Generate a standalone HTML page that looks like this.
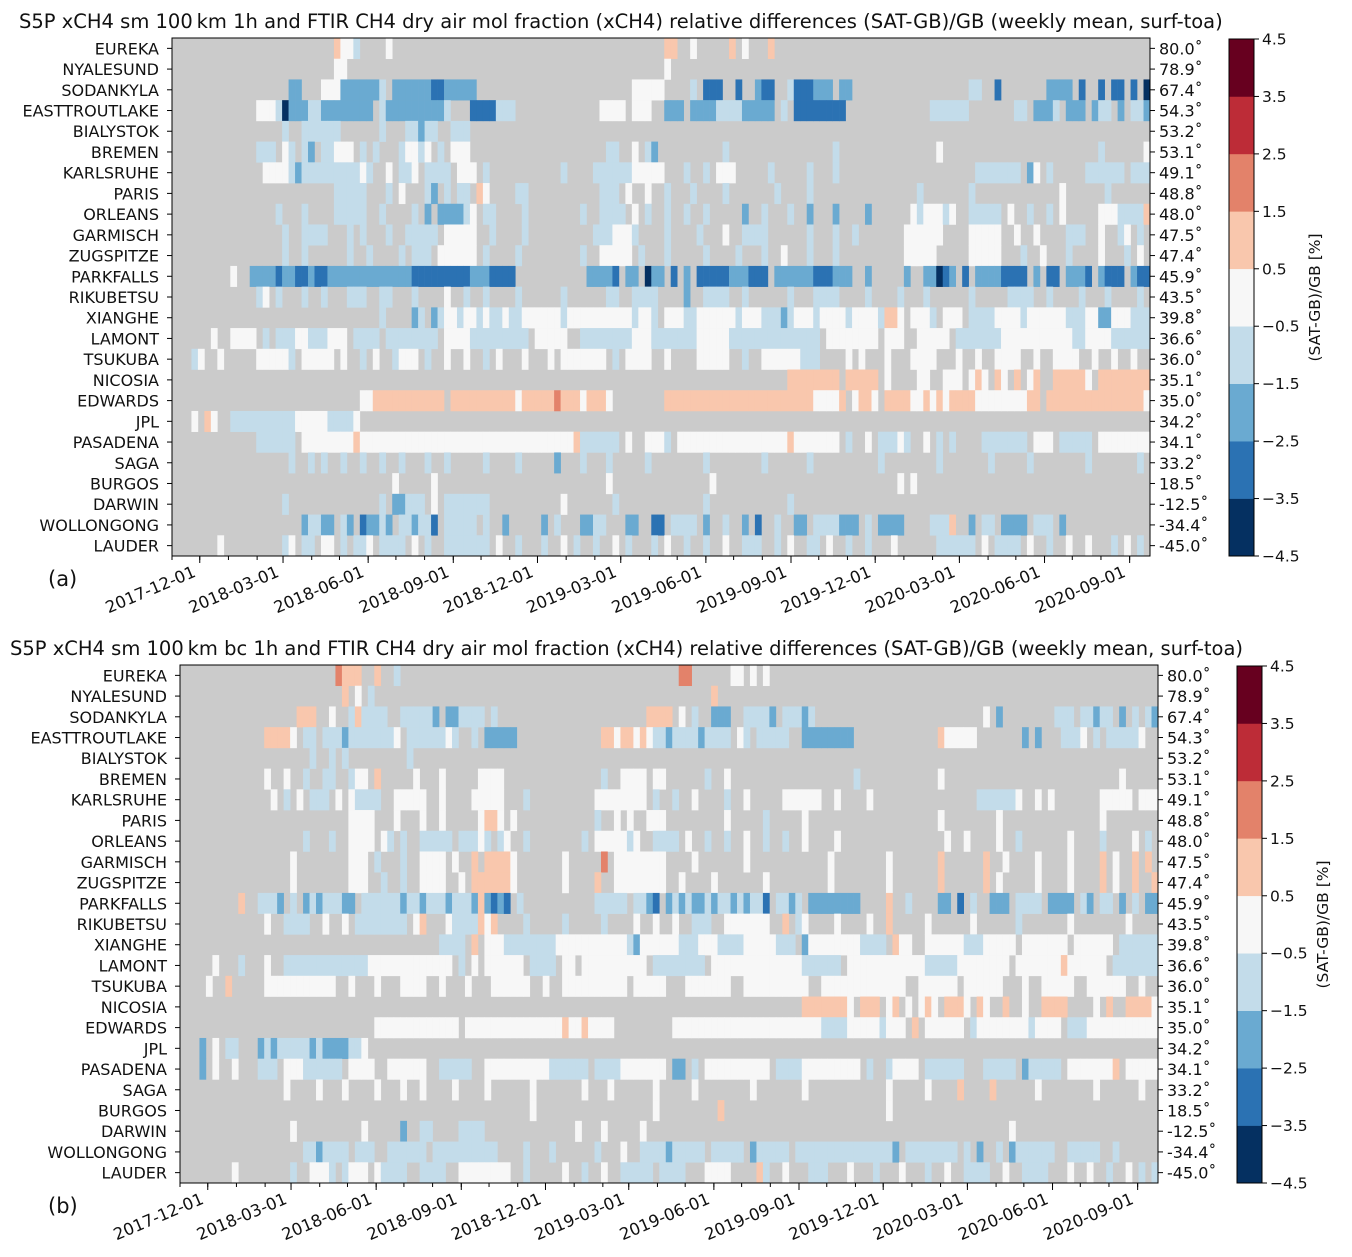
<!DOCTYPE html>
<html><head><meta charset="utf-8"><style>
html,body{margin:0;padding:0;background:#fff;}
svg{display:block;font-family:"DejaVu Sans","Liberation Sans",sans-serif;}
</style></head><body>
<svg id="fig" width="1352" height="1257" viewBox="0 0 1352 1257" xmlns="http://www.w3.org/2000/svg"></svg>
<script>
const stations=["EUREKA","NYALESUND","SODANKYLA","EASTTROUTLAKE","BIALYSTOK","BREMEN","KARLSRUHE","PARIS","ORLEANS","GARMISCH","ZUGSPITZE","PARKFALLS","RIKUBETSU","XIANGHE","LAMONT","TSUKUBA","NICOSIA","EDWARDS","JPL","PASADENA","SAGA","BURGOS","DARWIN","WOLLONGONG","LAUDER"];
const latLabels=["80.0","78.9","67.4","54.3","53.2","53.1","49.1","48.8","48.0","47.5","47.4","45.9","43.5","39.8","36.6","36.0","35.1","35.0","34.2","34.1","33.2","18.5","-12.5","-34.4","-45.0"];
const tickDates=["2017-12-01","2018-03-01","2018-06-01","2018-09-01","2018-12-01","2019-03-01","2019-06-01","2019-09-01","2019-12-01","2020-03-01","2020-06-01","2020-09-01"];
const cbarTicks=[4.5,3.5,2.5,1.5,0.5,-0.5,-1.5,-2.5,-3.5,-4.5];
const nWeeks=151;
const startDate="2017-11-01";
// weekly bins encoded as runs "startWeek-endWeek:level" (level 0..8 -> value level-4 %)
const runsA=[
"25:5,26-27:4,28:3,33:4,76-77:5,80:4,86:5,88:4,92:5",
"25-26:4,76:4",
"18-19:2,23-25:4,26-31:2,32:3,34-39:2,40-41:1,42-46:2,71-75:4,80:3,82-84:1,87:1,90:2,91-92:1,95:3,96-98:1,99-101:2,103-104:2,123-124:3,127:1,135-138:2,140:1,143:1,145-146:1,148:1,150:0",
"13-15:4,16:3,17:0,18-20:2,21-22:3,23-25:2,26-30:2,32:3,33-36:2,37-41:2,42:3,46-49:1,50:3,51-52:3,66-69:4,71-73:4,76-78:2,80-83:2,84-87:3,88-90:2,91-92:2,94:3,96-103:1,117-122:3,130-131:3,133-135:2,136:3,138-140:2,142:2,143-144:3,146:2,148-149:3,150:2",
"17:3,20-25:3,32:3,36-37:3,38:2,39-40:3,43-45:3",
"13-15:3,17:4,18:3,20:3,21:2,23-24:3,25-26:4,27:4,29:3,31:3,35:3,36-37:4,38:3,39:4,41:3,43-45:4,67-68:3,71:4,73:3,74:2,85:3,102:3,118:4,143:3,150:4",
"14-17:4,18:3,19:2,20:3,21-27:3,28:3,29:4,30:3,33:4,35-36:3,37:4,39-42:3,44-46:4,48:3,60:3,65-70:3,71-75:4,79:3,82:3,84-86:4,92:3,98:3,102:3,124-130:3,132:2,133:4,135:3,141-146:3,148-150:3",
"25-29:3,33:3,35:4,39:3,40:2,42:3,44-45:3,47:5,48:4,53-54:3,66-68:3,70:4,73:4,76:3,80:3,85:3,93:3,98:3,115:3,123:3,137:4,144:3",
"16:3,20:3,25-29:3,32:3,37:3,39:2,41-44:2,45:3,46:4,48:3,49:3,54:3,63:3,66-69:3,71:4,73:3,76:3,79:3,82:3,88:2,91:3,95:3,98:2,102:2,107:2,114:4,115:3,116-118:4,119:3,120:4,123-127:3,129:4,132:3,135:3,137:4,143-145:4,146-149:3,150:5",
"17:3,20-23:3,27:3,29:3,33:3,36:3,37-40:3,42:4,43-46:4,49:3,54:3,65-67:3,68-70:4,71:3,76:3,81:3,85:4,88-91:3,98:3,102:3,105:3,113-118:4,123-127:4,130:4,133:4,138-140:3,143:4,146:3,147:4,149:3",
"17:3,20:3,27:3,30:3,35:3,37-39:3,41:4,42-46:4,48:3,53:3,63:3,66-70:4,72:3,76:3,82:3,87:3,91:3,94:4,98:3,102:3,113-117:4,123-127:4,131:3,134:4,138:3,143:4,147:3,149:4",
"9:4,12-15:2,16:1,17-18:2,19-20:1,21:2,22-23:1,24-33:2,34-36:2,37-40:1,41-45:1,46-48:2,49-52:1,64-67:2,68:1,70-71:2,73:0,74-75:2,77:1,79:2,81-85:1,86-88:2,89-91:1,93-97:2,98:2,99-101:1,102-104:2,107:2,113:2,116-117:2,118:0,119:1,120:2,122:1,124-127:2,128-131:1,133:2,135-136:1,138-140:2,141:1,143:2,144-146:1,148:2,149-150:1",
"13:3,14:4,16:3,20:3,23:3,27-29:3,32-33:3,37:3,42:4,45:3,48:3,53:3,60:3,67-68:3,71-74:3,79:2,82-85:3,88:3,95:3,99-102:3,107:3,112:3,116:3,123:3,129-132:3,135:3,140:3,144:3,149:3",
"32:3,37:2,38:3,40:2,41:3,42-43:4,44:3,45-46:4,47:3,48:4,49-50:3,51:4,52-53:3,54-59:4,60:3,61-70:4,71:3,72-73:4,74:3,76-78:4,79-80:3,81-86:4,87:3,88-90:4,91-93:3,94:2,95:3,96-98:4,99:3,100-103:4,104:3,105-108:4,109:3,110-111:5,112:4,114-116:4,117:3,119-121:4,123-126:3,127:4,128-130:4,131:3,132-137:4,138-140:3,141-142:4,143-144:2,145-147:4,148-150:3",
"6:4,9-12:4,14:3,16-18:3,19-20:4,21-23:3,24-26:4,28:3,29-31:3,33-40:3,42-45:4,46-54:3,56-60:4,63-70:3,71-73:4,74-80:3,81-85:4,86-96:3,97-99:3,101-108:4,110-112:4,115-119:4,121-127:3,128-138:4,139-140:3,141-144:4,145-150:3",
"3:3,4:4,7:4,13-17:4,18:3,20-24:4,26:4,29:3,31:4,34:3,35-37:4,39:3,42:4,45:4,48:3,50:4,54:4,58:4,60-66:4,68:3,70-73:4,76:4,81-85:4,88:3,91-96:4,97-99:3,104:4,106:4,110:4,114-117:4,121:4,124:4,127-130:4,133:4,136-139:4,142:4,145:4,148:4",
"95-102:5,104-108:5,110:4,115-116:4,119-121:4,123:4,124:5,125:4,127:5,128:4,130:5,132:4,133:5,136-140:5,141:4,143-150:5",
"29-30:4,31-41:5,43-52:5,53:4,54-58:5,59:6,60-62:5,63:4,64-66:5,67:4,76-98:5,99-102:4,103:5,105:4,106-107:5,108:4,110-113:5,114-115:4,116:5,117:4,118:5,119:4,120-123:5,124-131:4,132-133:5,135-149:5,150:4",
"3:4,5:5,6:4,9-18:3,19-23:4,24-27:3,28:4",
"13-18:3,20-27:4,28:5,29-61:4,62:5,63-68:3,70:4,73-75:4,76:3,78-94:4,95:5,96-102:4,104:3,107:4,109-111:3,112:4,113:3,116:4,118:3,120:3,125-131:3,133-135:4,137-141:3,143-150:4",
"18:3,21:3,23:3,26:3,29:3,32:3,35:3,39:3,42:3,48:3,53:3,59:2,63:3,67:3,73:3,82:3,91:3,98:3,109:3,118:3,126:3,132:3,141:3,149:3",
"34:4,40:4,67:4,83:4,112:4,114:4",
"17:3,32:3,34-35:2,36-38:3,40:4,42-48:3,60:4,68:3,82:3,95:3",
"20:2,21-22:3,23-24:2,26:3,27:2,29:1,30-31:2,32:3,33:2,35-36:3,37:2,38-39:3,40:1,42-46:3,48:3,51:2,57:2,59:3,63-64:2,65-66:3,70-71:2,74-75:1,77-80:3,82:2,85:3,88:2,90:1,93:3,96-97:2,99-102:3,103-105:2,107:3,109-112:2,117-119:3,120:5,123:2,125-126:3,128-131:2,133-135:3,137:2",
"7:4,17:3,18:4,20-21:3,23-24:4,26:3,28-29:3,30:4,32-35:3,37:4,39:3,42-48:3,50:4,53:3,57:3,60:4,62:3,65:3,68:4,70:3,74:3,76:4,79:3,82:3,85:4,88-90:3,93:3,95:4,98-99:3,101:4,104:3,107:3,111:4,118-123:3,125:4,127-130:3,132:4,135:3,138:4,141:4,145:3,147:4,149:3"
];
const runsB=[
"24:6,25-27:5,30:5,33:3,77-78:6,85-86:4,88:4,90:4",
"25:5,27:4,29:3,82:5",
"18-20:5,23:4,26:3,27:5,28-31:3,34-38:3,39:2,41-42:2,43-46:3,48:3,72-75:5,77:4,79:3,82-84:2,87-90:3,91:2,93-95:3,96:2,97:3,124:4,126:2,135-137:3,139-140:3,141:2,142-143:3,145:2,147:3,149:3,150:2",
"13-16:5,17:4,19-20:3,22-24:3,25:2,26-32:3,33:4,35-40:3,41:4,42:3,45:3,47-51:2,65-66:5,67:4,68-69:5,70:4,71:5,72:4,73-74:3,75:2,76-79:3,80:2,81-84:3,86:4,87:3,89-93:3,96-103:2,117:5,118-122:4,130:2,132:2,136-138:3,139:4,141:3,143-147:3,148:4",
"20:3,23:3,25:3,35:3",
"13:4,16:4,19:3,22-23:3,26:3,27-28:4,30:5,36:4,40:4,46-49:4,65:3,68-71:4,73-74:4,81:3,84:4,104:3,117:4,145:4",
"14:4,16:3,18:4,20-22:3,24:4,26:4,27-30:3,33-37:4,40:4,45-49:4,53:3,64-71:4,73:3,76:3,79:4,84:3,87:4,93-98:4,101:4,106:4,123-128:3,129:4,132:4,134:4,142-146:4,148-150:4",
"26-29:4,33:4,37:4,40:4,46:4,47-48:5,49:4,51:4,64:3,67:4,69:4,72-74:4,84:4,90:3,96:4,117:4,126:4,142:4",
"19:3,23:3,26-29:4,31:4,32:3,34:3,37-41:3,43-45:3,46:4,47:3,49:3,50:4,53:3,62:3,64-68:4,69:3,70:4,73-76:3,78:4,81:3,84:3,87:4,90:3,93:3,96:4,101:4,118:4,121:4,126:4,129:3,137:4,142:3,147:4,149:3",
"17:4,26-28:4,30:3,34:3,37-40:4,42:4,45:5,47-50:5,51:4,59:4,65:6,67:4,68-74:4,79:4,87:4,100:4,109:4,117:5,124:5,127:4,132:4,137:4,142:5,144:4,147:5,149:5",
"17:4,26-28:4,31:3,34:3,37-40:4,43:4,45-50:5,51:4,59:4,64:5,67:4,68-74:4,77:4,82:4,90:4,100:4,109:4,117:5,124:5,126:4,132:4,137:4,142:5,144:4,147:5,150:5",
"9:5,12-14:3,15:2,17:3,19:2,20:3,21:2,22-24:3,25-26:2,28-33:3,34:2,35-36:3,37:2,38-40:3,41:2,42-44:3,45:2,46:5,47:2,48:1,49:2,50:1,52:3,64-68:3,70-71:3,72:2,73:1,75:2,76:3,77:2,78:3,79-80:2,81:3,82:2,83-84:3,85:2,86:3,87:2,88-89:3,90:1,92-93:3,94:2,95:3,97-104:2,109:5,112:3,117-118:2,120:1,122:3,125-127:2,129-132:3,134-137:2,139:3,140:2,142-143:3,145:2,147:3,149-150:2",
"13:4,16-19:3,22:4,25:4,27-34:3,36:4,37:5,41:4,42-45:3,46:5,47:4,48:5,53:3,59:3,65:3,70:4,73:4,76:4,79-81:3,84-90:4,93:5,95:3,96:4,101:4,106:4,109:5,115:4,122:4,129:3,137:4,146:4",
"40-43:3,45:5,47-49:4,50-57:3,58-68:4,69:3,70:2,71-76:4,77-79:3,80-82:4,83-86:3,87-91:4,92-94:3,96:2,97-104:4,105-108:3,110:5,111-112:4,115-120:4,121-123:3,124-128:4,130-136:4,138-143:4,145-150:3",
"5:4,9:3,13:4,16-28:3,29-41:4,43:3,45:4,47-52:4,54-57:3,59-60:4,62-71:4,73-80:3,82-95:4,96-101:3,103-114:4,115-119:3,120-127:4,129-135:4,136:5,137-142:4,144-150:3",
"4:4,7:5,13-23:4,26:4,30:4,34-37:4,40:4,44:4,48-53:4,56:4,59-68:4,70-74:4,78-84:4,87-96:4,99-111:4,114-119:4,121-126:4,130:4,133-137:4,140-145:4,148:4",
"96-102:5,103:4,105-107:5,109:4,110:5,112:4,114:4,115:5,116:4,118-120:5,121:4,123:5,124:4,127:5,130:4,133-136:5,141:4,143:5,146-149:5,150:4",
"30-42:4,44-58:4,59:5,60-61:4,62:5,63-66:4,76-98:4,99-102:3,103-107:4,108:3,109-111:4,113:5,115-120:4,122:3,123-130:4,131:3,132-135:4,137-139:3,140-150:4",
"3:2,5:4,7-8:3,12:2,13:3,14:2,15-19:3,20:2,21:3,22-25:2,26-27:3,28:4",
"3:2,5:4,8:4,12-14:3,16-18:4,19-24:3,26-29:4,32-37:4,40-44:3,47-56:4,57-62:3,64-67:3,68-74:4,76-77:2,79:3,81-90:4,92-95:3,96-104:4,106:3,109:3,110-113:4,115-120:3,124-128:3,130:2,131-135:3,137-143:4,144:5,146-150:4",
"16:4,21:4,25:4,30:4,34:4,37:4,42:4,47:4,54:4,62:4,66:4,73:4,79:4,88:4,96:4,109:4,115:4,120:5,125:5,132:4,141:4,148:4",
"54:4,73:4,83:5,109:4",
"17:4,28:4,34:2,37-38:3,43-46:3,61:4,65:4,71:4,128:4",
"19-20:3,21:2,22-25:3,27-29:3,32-37:3,39-48:3,53:3,57:3,64:3,68:4,71-74:3,75:2,76-80:3,82-86:3,88:2,89-93:3,95-109:3,110:2,112-119:3,121:3,123:2,126:3,128:2,129-134:3,137-141:3,144:3",
"8:4,17:3,20-22:4,23:3,25:3,26-28:4,30:4,31-34:3,37-40:3,43-50:4,53:3,59:4,62:3,65:4,68-72:3,74-77:3,81-84:4,89:5,90:3,93:4,97-99:3,103:4,107:3,111:4,115:3,118:4,121-124:3,127:4,130-133:3,137:4,140:4,143:3,146:4,148:3,150:3"
];
function decode(runs){return runs.map(s=>{const a=new Array(nWeeks).fill(null);s.split(",").forEach(t=>{const [r,l]=t.split(":");const [p,q]=r.split("-").map(Number);for(let i=p;i<=(q===undefined?p:q);i++)if(i<nWeeks)a[i]=Number(l)-4;});return a;});}
const valuesA=decode(runsA);
const valuesB=decode(runsB);
const colors=["#053061","#2b72b3","#6aaad1","#c3dcea","#f7f7f7","#f9c7ad","#e3826a","#bd2c37","#67001f"];
const NS="http://www.w3.org/2000/svg";
const svg=document.getElementById("fig");
function el(tag,attrs,parent,txt){const e=document.createElementNS(NS,tag);for(const k in attrs)e.setAttribute(k,attrs[k]);if(txt!==undefined)e.textContent=txt;(parent||svg).appendChild(e);return e;}
const DAY=86400000;
const t0=Date.parse(startDate);
function colorFor(v){let k=Math.floor(v+4.5);k=Math.max(0,Math.min(8,k));return colors[k];}
function panel(P){
  const g=el("g",{});
  
  
  const W=978,H=P.bottom-P.top,rowH=H/stations.length;
  const pxDay=W/(nWeeks*7);
  const xS=d=>P.left+(d-t0)/DAY*pxDay;
  const t=el("text",{x:P.titleX,y:P.top-10,"font-size":19.5,fill:"#111"},g,P.title);
  
  
  const bg=el("rect",{x:P.left,y:P.top,width:W,height:H,fill:"#cbcbcb"},g);
  
  
  P.values.forEach((row,r)=>{
    row.forEach((v,i)=>{
      if(v===null)return;
      const x1=xS(t0+i*7*DAY),x2=xS(t0+(i+1)*7*DAY);
      const c=el("rect",{x:x1.toFixed(2),y:(P.top+r*rowH).toFixed(2),width:(x2-x1+0.3).toFixed(2),height:(rowH+0.3).toFixed(2),fill:colorFor(v)},g);
      
      
    });
  });
  el("rect",{x:P.left,y:P.top,width:W,height:H,fill:"none",stroke:"#000","stroke-width":1},g);
  stations.forEach((s,r)=>{
    const y=P.top+(r+0.5)*rowH;
    el("line",{x1:P.left-5,x2:P.left,y1:y,y2:y,stroke:"#000"},g);
    el("line",{x1:P.left+W,x2:P.left+W+5,y1:y,y2:y,stroke:"#000"},g);
    const a=el("text",{x:P.left-13,y:y+6,"font-size":16,"text-anchor":"end",fill:"#111"},g,s);
    
    
    const b=el("text",{x:P.left+W+9,y:y+6,"font-size":16,fill:"#111"},g,latLabels[r]+"˚");
    
    
  });
  for(let y=2017,m=11;y<2021;){const d=Date.UTC(y,m-1,1);const x=xS(d);if(x>=P.left&&x<=P.left+W)el("line",{x1:x,x2:x,y1:P.bottom,y2:P.bottom+4,stroke:"#000"},g);m++;if(m>12){m=1;y++;}}
  tickDates.forEach(d=>{
    const x=xS(Date.parse(d));
    el("line",{x1:x,x2:x,y1:P.bottom,y2:P.bottom+7,stroke:"#000"},g);
    const tl=el("text",{x:0,y:0,"font-size":16.5,"text-anchor":"end",fill:"#111",transform:`translate(${x-3},${P.bottom+20}) rotate(-23)`},g,d);
    
    
  });
  const pl=el("text",{x:P.panelX,y:P.bottom+30,"font-size":21,fill:"#111"},g,P.panel);
  
  
  const cb=el("g",{},g);
  
  
  const ch=(P.cbBottom-P.cbTop)/9;
  for(let k=0;k<9;k++){el("rect",{x:P.cbX,y:P.cbBottom-(k+1)*ch,width:25,height:ch+0.3,fill:colors[k]},cb);}
  el("rect",{x:P.cbX,y:P.cbTop,width:25,height:P.cbBottom-P.cbTop,fill:"none",stroke:"#000"},cb);
  cbarTicks.forEach(v=>{
    const y=P.cbTop+(4.5-v)/9*(P.cbBottom-P.cbTop);
    el("line",{x1:P.cbX+25,x2:P.cbX+30,y1:y,y2:y,stroke:"#000"},cb);
    el("text",{x:P.cbX+33,y:y+5.5,"font-size":15.5,fill:"#111"},cb,(v<0?"−":"")+Math.abs(v).toFixed(1));
  });
  const cl=el("text",{x:0,y:0,"font-size":15.5,"text-anchor":"middle",fill:"#111",transform:`translate(${P.cbX+91},${(P.cbTop+P.cbBottom)/2}) rotate(-90)`},cb,"(SAT-GB)/GB [%]");
  
  
}
panel({name:"panel-a",values:valuesA,left:172,top:38,bottom:556,title:"S5P xCH4 sm 100\u2009km 1h  and FTIR CH4 dry air mol fraction (xCH4) relative differences (SAT-GB)/GB (weekly mean, surf-toa)",titleX:19,panel:"(a)",panelX:48,cbX:1229,cbTop:39,cbBottom:556});
panel({name:"panel-b",values:valuesB,left:180,top:665,bottom:1183,title:"S5P xCH4 sm 100\u2009km bc 1h  and FTIR CH4 dry air mol fraction (xCH4) relative differences (SAT-GB)/GB (weekly mean, surf-toa)",titleX:10,panel:"(b)",panelX:48,cbX:1237,cbTop:666,cbBottom:1183});
</script>
</body></html>
